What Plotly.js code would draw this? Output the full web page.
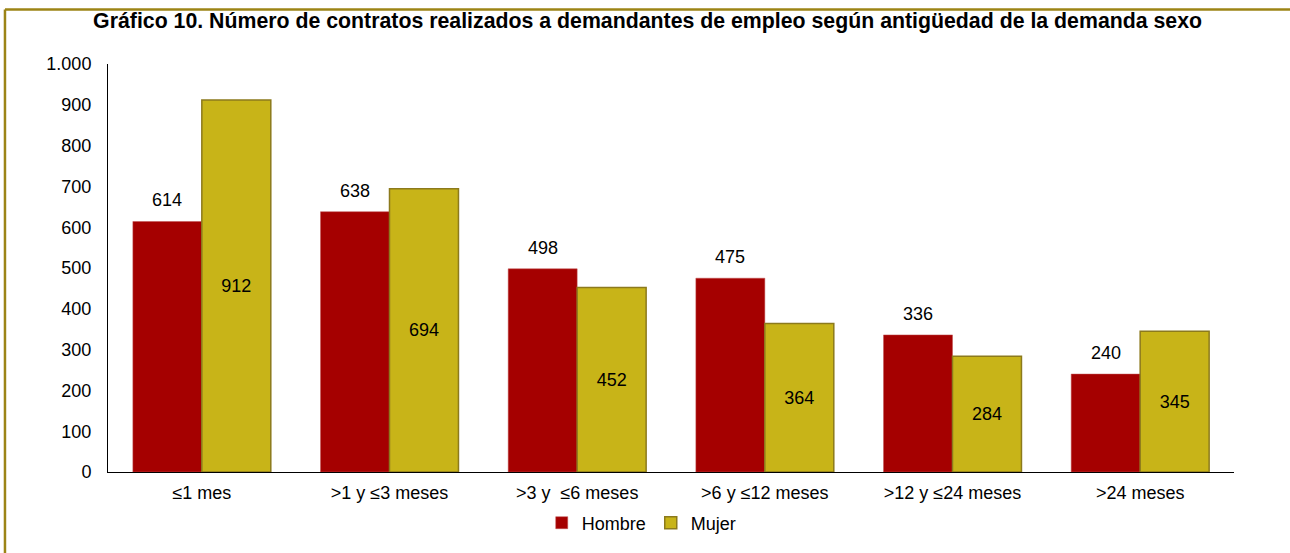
<!DOCTYPE html>
<html>
<head>
<meta charset="utf-8">
<script src="https://cdn.plot.ly/plotly-3.0.1.min.js"></script>
<style>
  html, body { margin: 0; padding: 0; background: #fff; }
  #chart { width: 1290px; height: 553px; }
</style>
</head>
<body>
<div id="chart"></div>
<script>
const categories = ["≤1 mes", ">1 y ≤3 meses", ">3 y \u00a0≤6 meses", ">6 y ≤12 meses", ">12 y ≤24 meses", ">24 meses"];
const hombre = [614, 638, 498, 475, 336, 240];
const mujer = [912, 694, 452, 364, 284, 345];
const yTicks = [0, 100, 200, 300, 400, 500, 600, 700, 800, 900, 1000];

const FONT = "'Liberation Sans', Arial, sans-serif";

const traces = [
  {
    type: "bar", name: "Hombre", x: categories, y: hombre,
    marker: { color: "#A50000", line: { color: "#C05050", width: 0.5 } },
    hoverinfo: "x+y"
  },
  {
    type: "bar", name: "Mujer", x: categories, y: mujer,
    marker: { color: "#C8B418", line: { color: "#8C7A1C", width: 1.5 } },
    text: mujer.map(String), textposition: "inside", insidetextanchor: "middle",
    constraintext: "none", textangle: 0,
    textfont: { family: FONT, size: 18, color: "#000" },
    hoverinfo: "x+y"
  }
];

const annotations = categories.map((c, i) => ({
  x: c, y: hombre[i], xref: "x", yref: "y",
  text: String(hombre[i]), showarrow: false,
  xshift: -34.5, yshift: 9, yanchor: "bottom",
  font: { family: FONT, size: 18, color: "#000" }
}));

const layout = {
  width: 1290, height: 553,
  margin: { l: 108, r: 56, t: 64, b: 81 },
  paper_bgcolor: "#fff", plot_bgcolor: "#fff",
  separators: ",.",
  font: { family: FONT, size: 18, color: "#000" },
  title: {
    text: "<b>Gráfico 10. Número de contratos realizados a demandantes de empleo según antigüedad de la demanda sexo</b>",
    font: { family: FONT, size: 21.3, color: "#000" },
    x: 0.502, xanchor: "center", y: 0.962, yanchor: "middle"
  },
  barmode: "group", bargap: 0.265, bargroupgap: 0,
  xaxis: {
    type: "category",
    showline: true, linecolor: "#000", linewidth: 1,
    showgrid: false, zeroline: false,
    ticks: "outside", ticklen: 4, tickcolor: "rgba(0,0,0,0)",
    tickfont: { family: FONT, size: 18, color: "#000" }
  },
  yaxis: {
    range: [0, 1000], tickvals: yTicks, tickformat: ",d",
    showline: true, linecolor: "#000", linewidth: 1,
    showgrid: false, zeroline: false,
    ticks: "outside", ticklen: 12, tickcolor: "rgba(0,0,0,0)",
    tickfont: { family: FONT, size: 18, color: "#000" }
  },
  showlegend: true,
  legend: {
    orientation: "h", x: 0.474, xanchor: "center", y: -0.125, yanchor: "middle",
    font: { family: FONT, size: 18, color: "#000" },
    itemwidth: 30, tracegroupgap: 0, traceorder: "normal"
  },
  annotations: annotations,
  shapes: [
    { type: "line", xref: "paper", yref: "paper", x0: -0.0915, x1: 1.1, y0: 1.1335, y1: 1.1335,
      line: { color: "#9C8416", width: 2.5 } },
    { type: "line", xref: "paper", yref: "paper", x0: -0.0915, x1: -0.0915, y0: 1.1335, y1: -0.3,
      line: { color: "#9C8416", width: 2.5 } }
  ]
};

Plotly.newPlot("chart", traces, layout, { displayModeBar: false, staticPlot: true });
</script>
</body>
</html>
